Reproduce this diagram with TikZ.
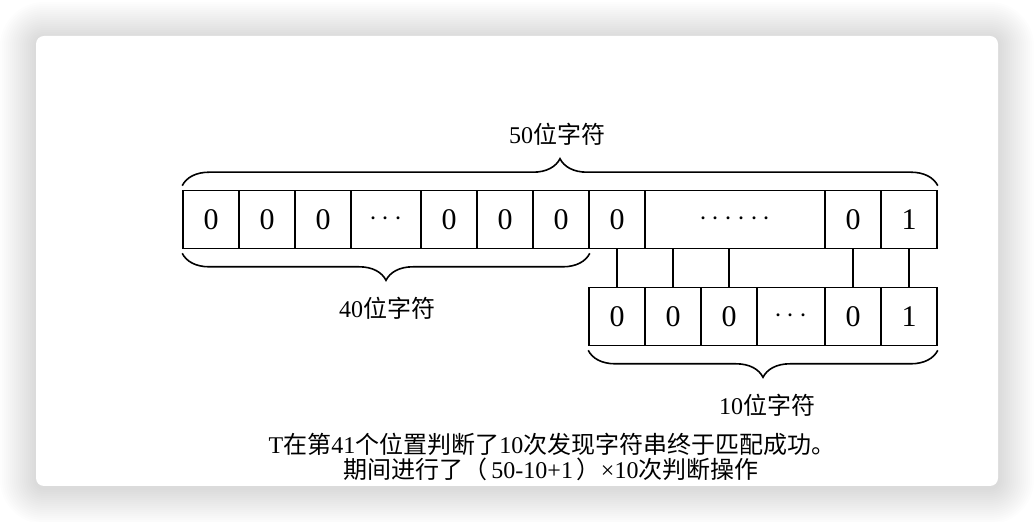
\documentclass[tikz,border=0pt]{standalone}
\usepackage{fontspec}
\setmainfont{Liberation Serif}
\newfontfamily\cjk{Noto Sans CJK SC}
\usepackage{tikz}
\usetikzlibrary{decorations.pathreplacing}

\newcommand{\zh}[1]{{\cjk #1}}

\tikzset{
  cell/.style={rectangle,draw,line width=0.8pt,minimum width=28pt,minimum height=29pt,inner sep=0pt,font=\fontsize{15}{18}\selectfont},
  lab/.style={inner sep=0pt,font=\fontsize{12}{14}\selectfont},
  grp/.style={decorate,decoration={brace,amplitude=13.5pt},line width=0.8pt},
}

\begin{document}
\begin{tikzpicture}[x=0.5pt,y=-0.5pt]
\useasboundingbox (0,0) rectangle (1034,522);
\fill[white] (0,0) rectangle (1034,522);

% card
\foreach \d [evaluate=\d as \r using 4+\d/2] in {2,4,...,36}
  \fill[black,opacity=0.009,rounded corners=\r pt] (36-\d,36-\d+2) rectangle (998+\d,486+\d+2);
\fill[white,rounded corners=4pt] (36,36) rectangle (998,486);

\node (T1)[cell] at (211,219.5) {0};
\node (T2)[cell] at (267,219.5) {0};
\node (T3)[cell] at (323,219.5) {0};
\node (T4)[cell,minimum width=35pt] at (386,219.5) {$\cdots$};
\node (T5)[cell] at (449,219.5) {0};
\node (T6)[cell] at (505,219.5) {0};
\node (T7)[cell] at (561,219.5) {0};
\node (T8)[cell] at (617,219.5) {0};
\node (T9)[cell,minimum width=90pt] at (735,219.5) {$\cdots\cdots$};
\node (T10)[cell] at (853,219.5) {0};
\node (T11)[cell] at (909,219.5) {1};

\node (B1)[cell] at (617,316.5) {0};
\node (B2)[cell] at (673,316.5) {0};
\node (B3)[cell] at (729,316.5) {0};
\node (B4)[cell,minimum width=34pt] at (791,316.5) {$\cdots$};
\node (B5)[cell] at (853,316.5) {0};
\node (B6)[cell] at (909,316.5) {1};

\draw[line width=0.8pt] (B1) -- (T8);
\draw[line width=0.8pt] (B2.north) -- (B2.north |- T9.south);
\draw[line width=0.8pt] (B3.north) -- (B3.north |- T9.south);
\draw[line width=0.8pt] (B5) -- (T10);
\draw[line width=0.8pt] (B6) -- (T11);

\draw[grp] ([yshift=2pt]T1.north west) -- ([yshift=2pt]T11.north east);
\draw[grp] ([yshift=-2pt]T7.south east) -- ([yshift=-2pt]T1.south west);
\draw[grp] ([yshift=-2pt]B6.south east) -- ([yshift=-2pt]B1.south west);

\node (L50)[lab] at (557,134) {50\zh{位字符}};
\node (L40)[lab] at (387,308) {40\zh{位字符}};
\node (L10)[lab] at (767,405) {10\zh{位字符}};

\node (Cap1)[lab] at (552,444) {T\zh{在第}41\zh{个位置判断了}10\zh{次发现字符串终于匹配成功。}};
\node (Cap2)[lab] at (551,469) {\zh{期间进行了（}\,50-10+1\,\zh{）}×10\zh{次判断操作}};
\end{tikzpicture}
\end{document}
